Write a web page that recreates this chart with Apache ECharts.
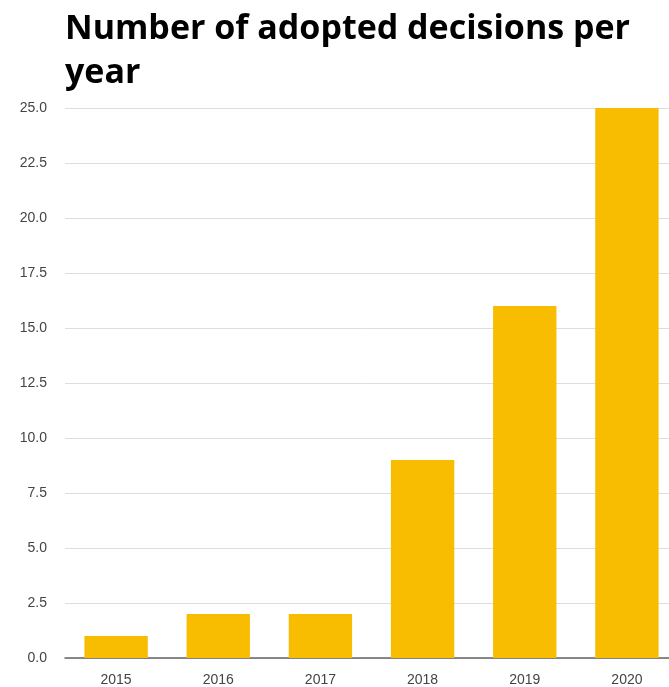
<!DOCTYPE html>
<html><head><meta charset="utf-8">
<script src="https://cdn.jsdelivr.net/npm/echarts@6/dist/echarts.min.js"></script>
<style>html,body{margin:0;padding:0;background:#fff}#c{width:669px;height:687px}</style>
</head><body><div id="c"></div>
<script>
const categories = ['2015','2016','2017','2018','2019','2020'];
const values = [1, 2, 2, 9, 16, 25];
const titleText = 'Number of adopted decisions per\nyear';
const chart = echarts.init(document.getElementById('c'), null, {renderer:'canvas'});
chart.setOption({
  animation:false,
  title:{text:titleText,left:60,top:2,textStyle:{fontFamily:'Open Sans',fontWeight:'bold',fontSize:34,color:'#000',lineHeight:44}},
  grid:{left:65,width:613,top:108,bottom:29,containLabel:false,outerBoundsMode:'none'},
  xAxis:{type:'category',data:categories,axisTick:{show:false},
    axisLine:{lineStyle:{color:'#666',width:1.5}},
    axisLabel:{color:'#444',fontFamily:'Liberation Sans',fontSize:14,margin:15}},
  yAxis:{type:'value',min:0,max:25,interval:2.5,
    axisLabel:{color:'#444',fontFamily:'Liberation Sans',fontSize:14,margin:18,formatter:v=>v.toFixed(1)},
    splitLine:{lineStyle:{color:'#ddd',width:1}},axisLine:{show:false},axisTick:{show:false}},
  series:[{type:'bar',data:values,barWidth:'62%',itemStyle:{color:'#F8BC00'}}]
});
</script></body></html>
